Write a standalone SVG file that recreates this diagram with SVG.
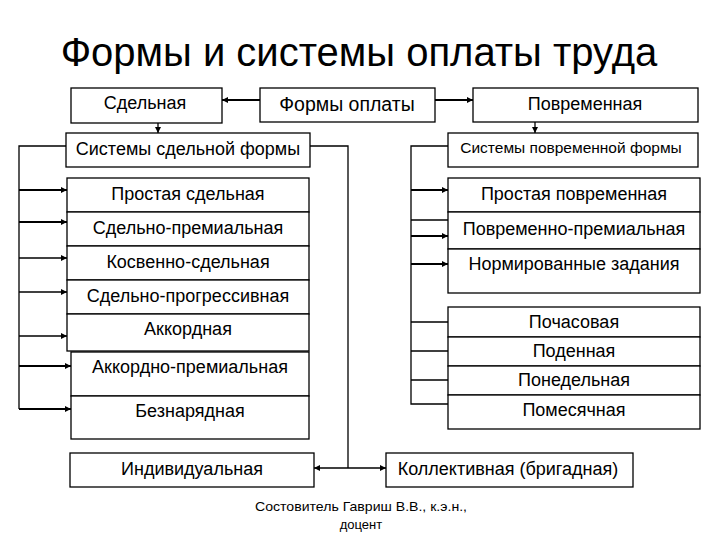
<svg xmlns="http://www.w3.org/2000/svg" width="720" height="540" viewBox="0 0 720 540">
<defs>
<marker id="ah" viewBox="0 0 10 10" refX="10" refY="5" markerWidth="7" markerHeight="6" markerUnits="userSpaceOnUse" orient="auto-start-reverse">
<path d="M0,0 L10,5 L0,10 z" fill="#000"/>
</marker>
<style>
.b{fill:#fff;stroke:#000;stroke-width:1.3}
.t{font-family:"Liberation Sans",Arial,sans-serif;font-size:18px;fill:#000;text-anchor:middle}
.c{fill:none;stroke:#000;stroke-width:1.3}
.k{fill:none;stroke:#000;stroke-width:2}
</style>
</defs>
<rect width="720" height="540" fill="#fff"/>
<text x="359" y="66" class="t" style="font-size:40px">Формы и системы оплаты труда</text>

<g id="connectors">
<path class="k" d="M260,100 H222" marker-end="url(#ah)"/>
<path class="k" d="M435,100 H473" marker-end="url(#ah)"/>
<path class="c" d="M158,123 V133" marker-end="url(#ah)"/>
<path class="c" d="M535,122 V133" marker-end="url(#ah)"/>
<path class="c" d="M66,146 H19 V409"/>
<path class="k" d="M19,190 H67" marker-end="url(#ah)"/>
<path class="k" d="M19,222 H67" marker-end="url(#ah)"/>
<path class="c" d="M19,258 H67" marker-end="url(#ah)"/>
<path class="c" d="M19,292 H67" marker-end="url(#ah)"/>
<path class="c" d="M19,336 H67" marker-end="url(#ah)"/>
<path class="k" d="M19,366 H71" marker-end="url(#ah)"/>
<path class="k" d="M19,409 H71" marker-end="url(#ah)"/>
<path class="c" d="M310,146 H348 V468"/>
<path class="c" d="M314,468 H386" marker-start="url(#ah)" marker-end="url(#ah)"/>
<path class="c" d="M448,146 H411 V404 H448"/>
<path class="k" d="M411,190 H448" marker-end="url(#ah)"/>
<path class="c" d="M411,220 H448"/>
<path class="k" d="M411,236 H448" marker-end="url(#ah)"/>
<path class="k" d="M411,264 H448" marker-end="url(#ah)"/>
<path class="c" d="M411,322 H448 M411,351 H448 M411,380 H448"/>
</g>

<g id="n-sdelnaya"><rect class="b" x="71" y="88" width="151" height="35"/><text class="t" x="145" y="109">Сдельная</text></g>
<g id="n-formy"><rect class="b" x="260" y="88" width="175" height="34"/><text class="t" style="font-size:19.5px" x="347" y="111">Формы оплаты</text></g>
<g id="n-povremennaya"><rect class="b" x="473" y="88" width="225" height="34"/><text class="t" x="585" y="110">Повременная</text></g>

<g id="n-sys-sd"><rect class="b" x="66" y="133" width="244" height="34"/><text class="t" x="188" y="155">Системы сдельной формы</text></g>
<g id="n-sys-pov"><rect class="b" x="448" y="133" width="250" height="34"/><text class="t" style="font-size:15.5px" x="571" y="153">Системы повременной формы</text></g>

<g id="n-prostaya-sd"><rect class="b" x="67" y="178" width="242" height="34"/><text class="t" x="188" y="200">Простая сдельная</text></g>
<g id="n-sd-prem"><rect class="b" x="67" y="212" width="242" height="34"/><text class="t" x="188" y="234">Сдельно-премиальная</text></g>
<g id="n-kosv"><rect class="b" x="67" y="246" width="242" height="34"/><text class="t" x="188" y="268">Косвенно-сдельная</text></g>
<g id="n-progr"><rect class="b" x="67" y="280" width="242" height="34"/><text class="t" x="188" y="302">Сдельно-прогрессивная</text></g>
<g id="n-akkord"><rect class="b" x="67" y="314" width="242" height="37"/><text class="t" x="188" y="335">Аккордная</text></g>
<g id="n-akkord-prem"><rect class="b" x="71" y="352" width="238" height="44"/><text class="t" x="190" y="373">Аккордно-премиальная</text></g>
<g id="n-beznar"><rect class="b" x="71" y="396" width="238" height="43"/><text class="t" x="190" y="417">Безнарядная</text></g>

<g id="n-prostaya-pov"><rect class="b" x="448" y="178" width="252" height="34"/><text class="t" x="574" y="200">Простая повременная</text></g>
<g id="n-pov-prem"><rect class="b" x="448" y="212" width="252" height="37"/><text class="t" x="574" y="235">Повременно-премиальная</text></g>
<g id="n-norm"><rect class="b" x="448" y="249" width="252" height="44"/><text class="t" x="574" y="270">Нормированные задания</text></g>

<g id="n-pochas"><rect class="b" x="448" y="307" width="252" height="30"/><text class="t" x="574" y="328">Почасовая</text></g>
<g id="n-podenn"><rect class="b" x="448" y="337" width="252" height="29"/><text class="t" x="574" y="357">Поденная</text></g>
<g id="n-ponedel"><rect class="b" x="448" y="366" width="252" height="29"/><text class="t" x="574" y="386">Понедельная</text></g>
<g id="n-pomes"><rect class="b" x="448" y="395" width="252" height="34"/><text class="t" x="574" y="416">Помесячная</text></g>

<g id="n-indiv"><rect class="b" x="70" y="453" width="244" height="34"/><text class="t" x="192" y="475">Индивидуальная</text></g>
<g id="n-kollekt"><rect class="b" x="386" y="453" width="247" height="34"/><text class="t" x="508" y="475">Коллективная (бригадная)</text></g>

<text class="t" style="font-size:13px" x="361" y="511" textLength="212" lengthAdjust="spacingAndGlyphs">Состовитель Гавриш В.В., к.э.н.,</text>
<text class="t" style="font-size:13px" x="361" y="529">доцент</text>
</svg>
